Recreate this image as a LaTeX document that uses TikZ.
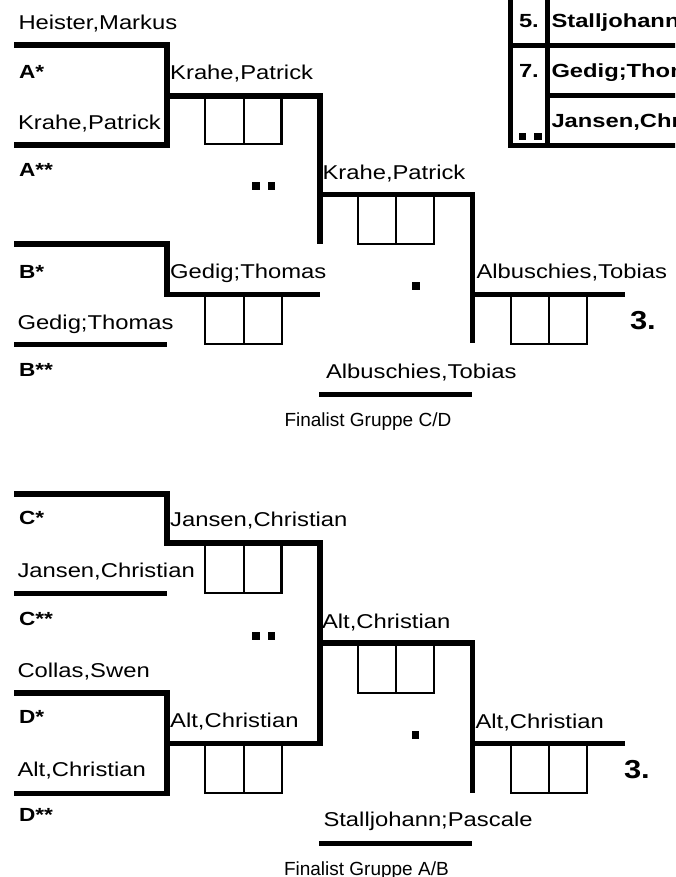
\documentclass[tikz,border=0pt]{standalone}
\usepackage{fontspec}
\newfontfamily\nf{Liberation Sans}[FakeStretch=1.19]
\newfontfamily\tf{Liberation Sans}[FakeStretch=1.25]
\newfontfamily\pf{Liberation Sans}
\begin{document}
\begin{tikzpicture}[x=1pt,y=-1pt,
  thickline/.style={line width=5.5pt},
  tabline/.style={line width=5pt},
  thinline/.style={line width=2.2pt},
  txtbase/.style={anchor=base west, inner sep=0pt, outer sep=0pt},
  nametxt/.style={txtbase, font=\nf\fontsize{20}{24}\selectfont},
  labtxt/.style={txtbase, font=\nf\bfseries\fontsize{19}{23}\selectfont},
  tabtxt/.style={txtbase, font=\tf\bfseries\fontsize{19}{23}\selectfont},
  placetxt/.style={txtbase, font=\nf\bfseries\fontsize{26}{30}\selectfont},
  fintxt/.style={txtbase, font=\pf\fontsize{19}{23}\selectfont}]
\useasboundingbox (0,0) rectangle (675,877);
\clip (0,0) rectangle (675,877);

% ---------- score boxes ----------
\foreach \dy in {0,449}{
  \draw[thinline] (205.3,96+\dy) rectangle (281.5,144.2+\dy) (244,96+\dy) -- (244,144.2+\dy);
  \draw[thinline] (205.3,294.5+\dy) rectangle (282,344+\dy) (244,294.5+\dy) -- (244,344+\dy);
  \draw[thinline] (357.7,194.5+\dy) rectangle (434,244+\dy) (396,194.5+\dy) -- (396,244+\dy);
  \draw[thinline] (510.7,294.5+\dy) rectangle (586.7,344+\dy) (549,294.5+\dy) -- (549,344+\dy);
}

% ---------- upper bracket (A/B) ----------
\draw[thickline] (14,45) -- (167,45) -- (167,145) -- (14,145);
\draw[thickline] (167,96) -- (320,96) -- (320,244);
\draw[thickline] (14,244) -- (167,244) -- (167,294.5) -- (320,294.5);
\draw[thickline] (14,344.5) -- (167,344.5);
\draw[thickline] (320,194.5) -- (472.5,194.5) -- (472.5,343);
\draw[thickline] (472.5,294.5) -- (625,294.5);
\draw[thickline] (319,394.5) -- (472,394.5);

% ---------- lower bracket (C/D) ----------
\draw[thickline] (14,494) -- (167,494) -- (167,543) -- (320,543) -- (320,743.3) -- (167,743.3);
\draw[thickline] (14,593.7) -- (167,593.7);
\draw[thickline] (14,693) -- (167,693) -- (167,793.5) -- (14,793.5);
\draw[thickline] (320,643) -- (472.5,643) -- (472.5,793.3);
\draw[thickline] (472.5,743.7) -- (625,743.7);
\draw[thickline] (319,843.3) -- (472.3,843.3);

% ---------- table top right ----------
\draw[tabline] (510.5,-5) -- (510.5,147.7);
\draw[tabline] (547.5,-5) -- (547.5,147.7);
\draw[tabline] (508,45.2) -- (680,45.2);
\draw[tabline] (547.5,95.2) -- (680,95.2);
\draw[tabline] (508,145.2) -- (680,145.2);

% ---------- dots ----------
\fill (252.3,182.5) rectangle (260,190.5);
\fill (267.7,182.5) rectangle (275.3,190.5);
\fill (412.3,282.3) rectangle (420,290);
\fill (252.3,632) rectangle (260,640);
\fill (267.7,632) rectangle (275.3,640);
\fill (411.7,731) rectangle (419.3,738.5);
\fill (519,133.3) rectangle (526,140);
\fill (534.3,133.3) rectangle (541.7,140);

% ---------- texts upper ----------
\node[nametxt] (hm)  at (18.5,29.3)  {Heister,Markus};
\node[labtxt]  (as)  at (19,78.3)    {A*};
\node[nametxt] (kp1) at (18,129.3)   {Krahe,Patrick};
\node[labtxt]  (ass) at (19,176.7)   {A**};
\node[nametxt] (kp2) at (170.2,79.3) {Krahe,Patrick};
\node[nametxt] (kp3) at (322.5,179.3){Krahe,Patrick};
\node[labtxt]  (bs)  at (19,278)     {B*};
\node[nametxt] (gt2) at (170.2,278.3){Gedig;Thomas};
\node[nametxt] (gt1) at (17.5,329)   {Gedig;Thomas};
\node[labtxt]  (bss) at (19,376.7)   {B**};
\node[nametxt] (at4) at (476.5,278.3){Albuschies,Tobias};
\node[nametxt] (at3) at (326,378.3)  {Albuschies,Tobias};
\node[placetxt](p3a) at (630,329.3)  {3.};
\node[fintxt]  (fcd) at (284.5,426.7){Finalist Gruppe C/D};

% ---------- table texts ----------
\node[tabtxt] (t5)  at (519,27.3)  {5.};
\node[tabtxt] (t5n) at (551.5,27.3)  {Stalljohann;Pascale};
\node[tabtxt] (t7)  at (519,77.3)  {7.};
\node[tabtxt] (t7n) at (551.5,77.3)  {Gedig;Thomas};
\node[tabtxt] (tjn) at (551.5,127.7) {Jansen,Christian};

% ---------- texts lower ----------
\node[labtxt]  (cs)  at (19,524)     {C*};
\node[nametxt] (jc2) at (170.2,526)  {Jansen,Christian};
\node[nametxt] (jc1) at (17.5,577.3) {Jansen,Christian};
\node[labtxt]  (css) at (19,625)     {C**};
\node[nametxt] (cw)  at (17.5,677.3) {Collas,Swen};
\node[labtxt]  (ds)  at (19,723.3)   {D*};
\node[nametxt] (ac2) at (170.2,727.3){Alt,Christian};
\node[nametxt] (ac1) at (17.5,776.7) {Alt,Christian};
\node[labtxt]  (dss) at (19,821.7)   {D**};
\node[nametxt] (ac3) at (322,628.3)  {Alt,Christian};
\node[nametxt] (ac4) at (475.5,728.3){Alt,Christian};
\node[placetxt](p3b) at (624,778.3)  {3.};
\node[nametxt] (sp)  at (323.5,826)  {Stalljohann;Pascale};
\node[fintxt]  (fab) at (284,875)    {Finalist Gruppe A/B};
\end{tikzpicture}
\end{document}
